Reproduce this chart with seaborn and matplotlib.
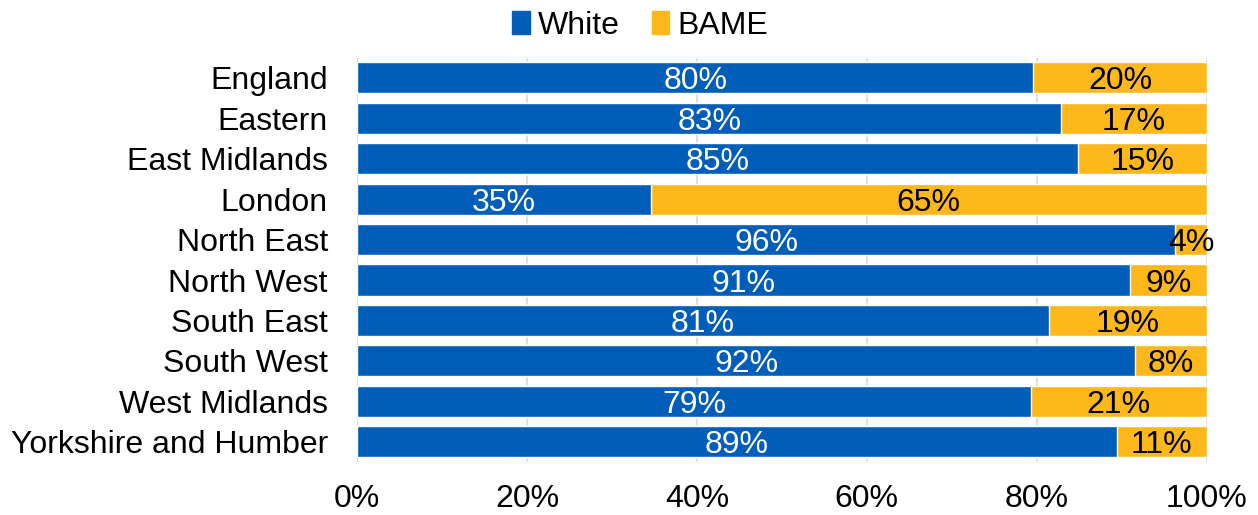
import seaborn as sns
import matplotlib.pyplot as plt
import matplotlib.patches as mpatches
from matplotlib.ticker import PercentFormatter

# Share of population by ethnic group, per region (%)
regions = ["England", "Eastern", "East Midlands", "London", "North East",
           "North West", "South East", "South West", "West Midlands",
           "Yorkshire and Humber"]
white = [79.6, 82.9, 84.9, 34.6, 96.3, 91.0, 81.4, 91.6, 79.3, 89.4]
bame = [20.4, 17.1, 15.1, 65.4, 3.7, 9.0, 18.6, 8.4, 20.7, 10.6]

blue = "#005EB8"
yellow = "#FFB81C"

sns.set_style("white")
plt.rcParams["font.family"] = ["Liberation Sans", "DejaVu Sans"]
plt.rcParams["text.color"] = "black"
plt.rcParams["xtick.color"] = "black"
plt.rcParams["ytick.color"] = "black"

fig = plt.figure(figsize=(12.58, 5.15), dpi=100)
ax = fig.add_axes([0.2838, 0.103, 0.9592 - 0.2838, 0.785])

total = [w + b for w, b in zip(white, bame)]
sns.barplot(x=total, y=regions, color=yellow, width=0.77, orient="h",
            ax=ax, saturation=1, zorder=2)
sns.barplot(x=white, y=regions, color=blue, width=0.77, orient="h",
            ax=ax, saturation=1, zorder=3)

# labels in the middle of each segment
for i, (w, b) in enumerate(zip(white, bame)):
    ax.text(w / 2, i, f"{w:.0f}%", ha="center", va="center_baseline",
            color="white", fontsize=23, zorder=4)
    ax.text(w + b / 2, i, f"{b:.0f}%", ha="center", va="center_baseline",
            color="black", fontsize=23, zorder=4)

ax.set_xlim(0, 100)
ax.set_ylim(9.5, -0.5)
ax.set_xticks([0, 20, 40, 60, 80, 100])
ax.xaxis.set_major_formatter(PercentFormatter(decimals=0))
ax.grid(axis="x", color="#d9d9d9", linewidth=1.2, zorder=0)
ax.set_axisbelow(True)
for s in ax.spines.values():
    s.set_visible(False)
ax.tick_params(axis="both", labelsize=23, length=0)
ax.tick_params(axis="x", pad=16)
ax.tick_params(axis="y", pad=21)
ax.set_xlabel("")
ax.set_ylabel("")

handles = [mpatches.Patch(color=blue, label="White"),
           mpatches.Patch(color=yellow, label="BAME")]
fig.legend(handles=handles, loc="upper center", bbox_to_anchor=(0.509, 1.035),
           ncol=2, frameon=False, fontsize=23, handlelength=0.55,
           handleheight=0.7, handletextpad=0.25, columnspacing=1.0)

fig.savefig("out.png", dpi=100)
